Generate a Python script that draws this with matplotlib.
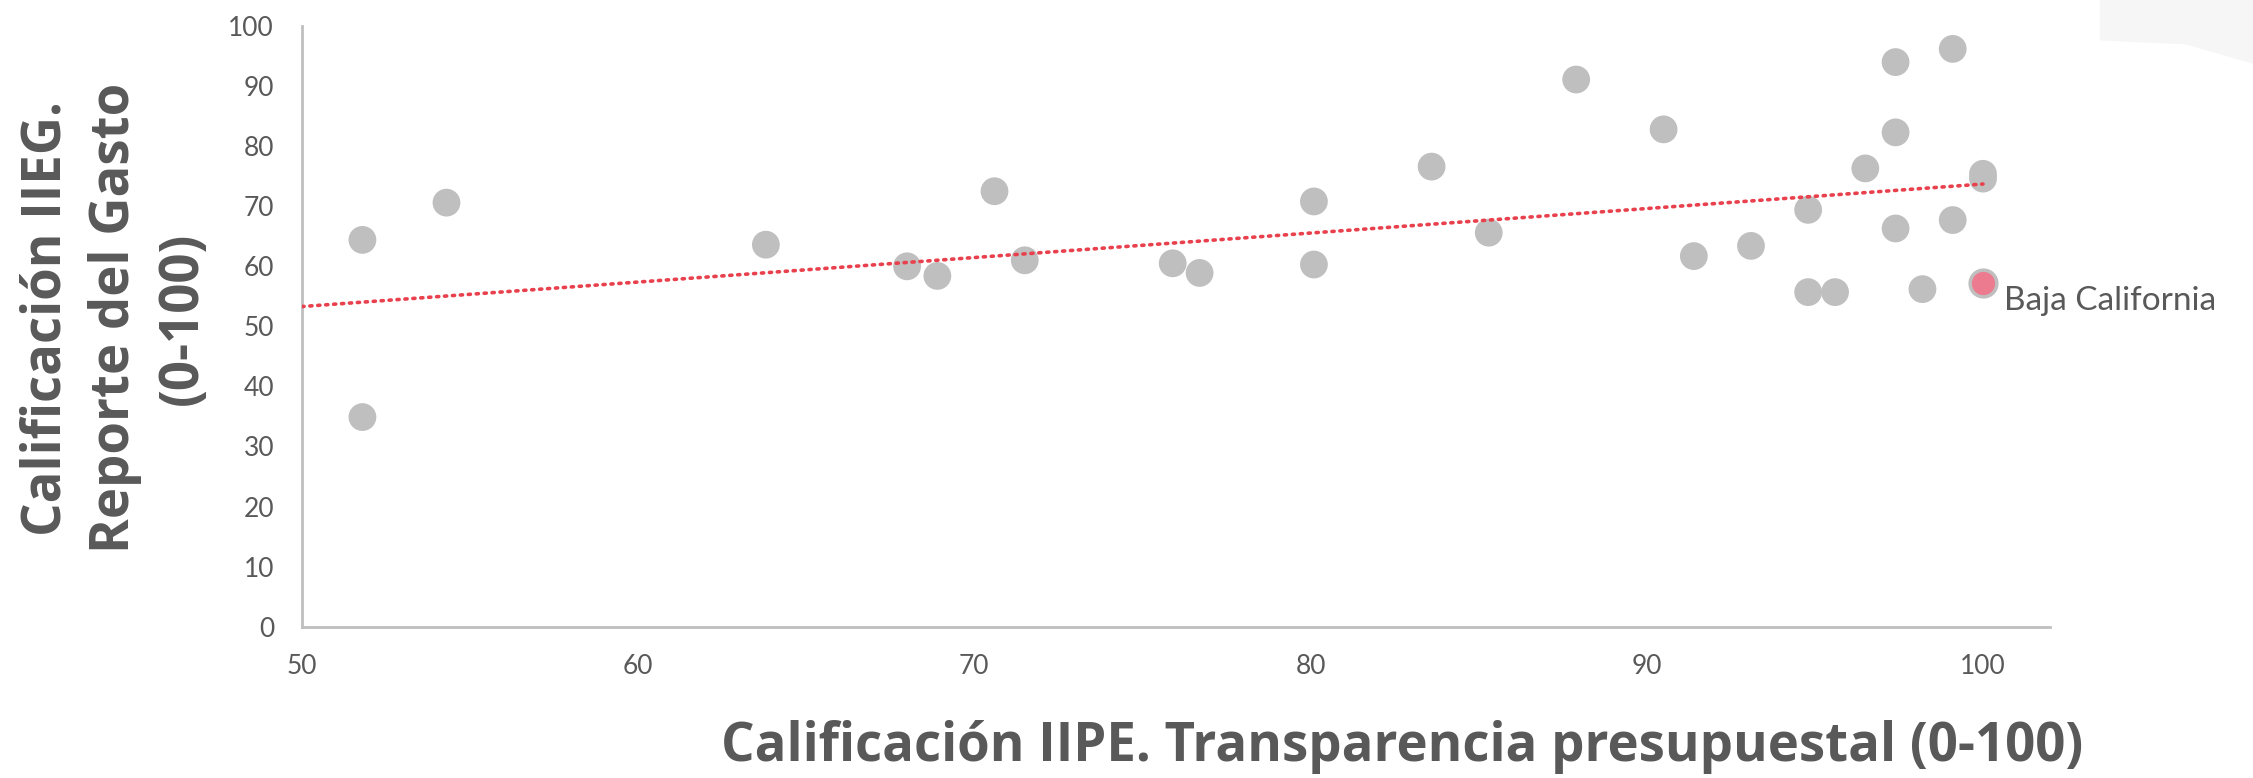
"""Dispersión IIPE vs IIEG por entidad, con línea de tendencia."""

import matplotlib.pyplot as plt
from matplotlib.patches import Polygon

# Calificación IIPE (transparencia presupuestal)
iipe = [51.8, 51.8, 54.3, 63.8, 68.0, 68.9, 70.6, 71.5, 75.9, 76.7,
        80.1, 80.1, 83.6, 85.3, 87.9, 90.5, 91.4, 93.1, 94.8, 94.8,
        95.6, 96.5, 97.4, 97.4, 97.4, 98.2, 99.1, 99.1, 100.0, 100.0]
# Calificación IIEG (reporte del gasto)
iieg = [64.4, 34.9, 70.6, 63.6, 60.0, 58.4, 72.5, 61.0, 60.5, 58.9,
        70.8, 60.3, 76.6, 65.6, 91.1, 82.8, 61.7, 63.4, 69.4, 55.7,
        55.7, 76.3, 94.0, 82.3, 66.3, 56.2, 96.2, 67.7, 75.4, 74.6]

highlight_name = "Baja California"
highlight_x = 100.0
highlight_y = 57.2

# línea de tendencia lineal (extremos)
trend_x = [50.0, 100.0]
trend_y = [53.3, 73.7]

x_ticks = [50, 60, 70, 80, 90, 100]
y_ticks = [0, 10, 20, 30, 40, 50, 60, 70, 80, 90, 100]

TEXT = "#595959"
GREY = "#bfbfbf"

fig = plt.figure(figsize=(22.53, 7.78), dpi=100)

# mancha decorativa de la diapositiva, esquina superior derecha
fig.patches.append(Polygon(
    [(0.932, 1.0), (0.932, 0.948), (0.97, 0.943), (1.0, 0.918), (1.0, 1.0)],
    closed=True, transform=fig.transFigure, facecolor="#f6f6f6",
    edgecolor="none", zorder=0))

ax = fig.add_axes([0.134, 0.1945, 0.776, 0.772])
ax.set_facecolor("none")

ax.scatter(iipe, iieg, s=400, color=GREY, edgecolors="none", zorder=3)
ax.scatter([highlight_x], [highlight_y], s=370, color="#ec7b90",
           edgecolors=GREY, linewidths=2.5, zorder=4)

ax.plot(trend_x, trend_y, color="#e8414d", linewidth=2.6,
        linestyle=(0, (0.6, 1.6)), dash_capstyle="round", zorder=5)

ax.annotate(highlight_name, (highlight_x, highlight_y), xytext=(15, -13),
            textcoords="offset points", ha="left", va="center",
            fontsize=24, color=TEXT, family="Lato")

ax.set_xlim(50, 102)
ax.set_ylim(0, 100)
ax.set_xticks(x_ticks)
ax.set_yticks(y_ticks)
ax.tick_params(length=0, labelsize=19, labelcolor=TEXT)
ax.tick_params(axis="x", pad=20)
ax.tick_params(axis="y", pad=20)
for label in ax.get_xticklabels() + ax.get_yticklabels():
    label.set_family("Lato")

for side in ("top", "right"):
    ax.spines[side].set_visible(False)
for side in ("left", "bottom"):
    ax.spines[side].set_color(GREY)
    ax.spines[side].set_linewidth(2)

fig.text(0.6225, 0.04, "Calificación IIPE. Transparencia presupuestal (0-100)",
         ha="center", va="center", fontsize=38, fontweight="bold",
         color=TEXT, family="Open Sans")
fig.text(0.051, 0.591, "Calificación IIEG.\nReporte del Gasto\n(0-100)",
         ha="center", va="center", rotation=90, fontsize=38,
         fontweight="bold", color=TEXT, family="Open Sans",
         linespacing=1.35)

fig.savefig("out.png", dpi=100)
